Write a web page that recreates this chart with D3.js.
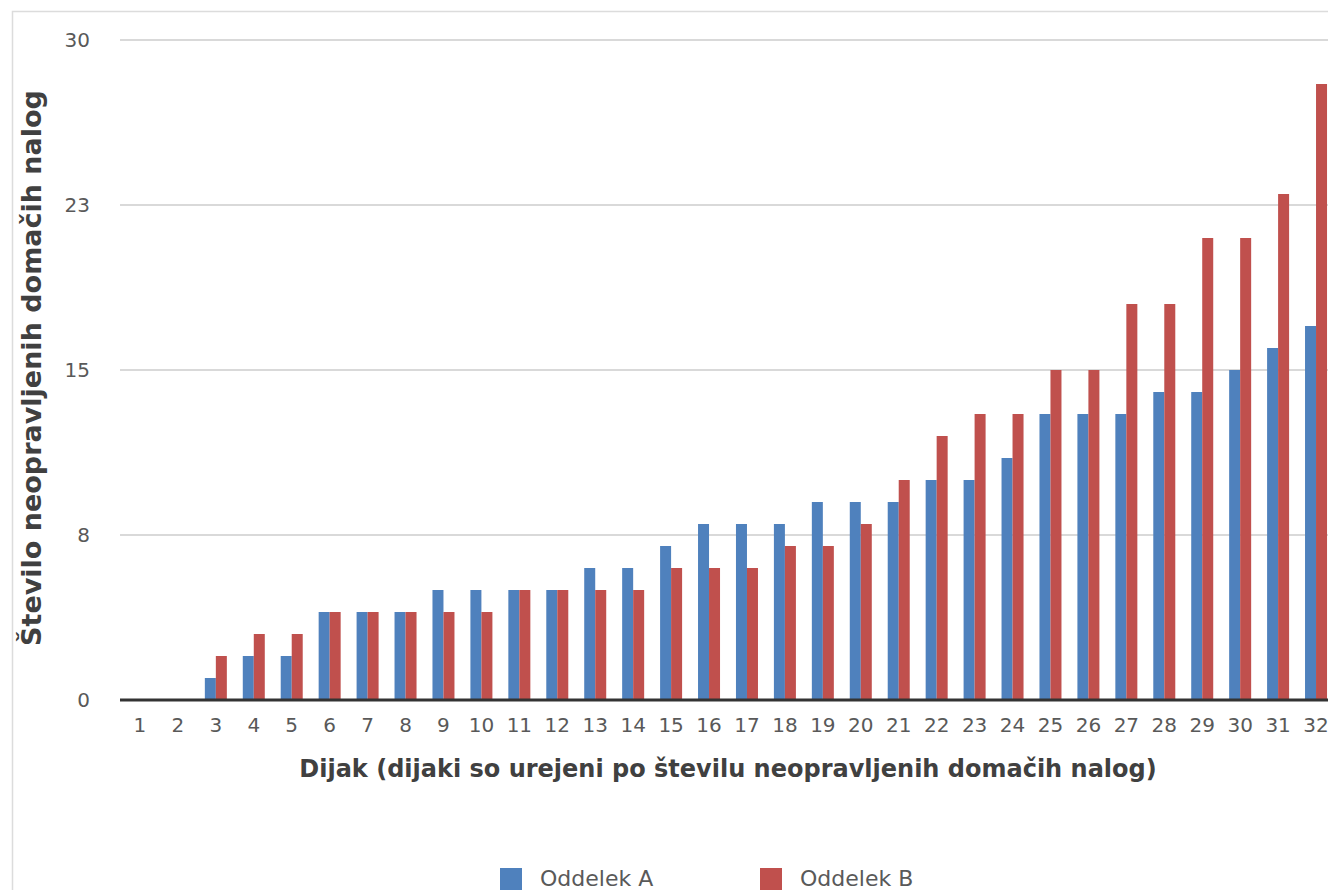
<!doctype html>
<html lang="sl">
<head>
<meta charset="utf-8">
<script src="https://d3js.org/d3.v7.min.js"></script>
<style>
  html, body { margin: 0; padding: 0; background: #fff; overflow: hidden; }
  svg { display: block; font-family: "DejaVu Sans", "Noto Sans", sans-serif; }
</style>
</head>
<body>
<div id="chart"></div>
<script>

// students 1..32, sorted by number of missing homeworks
var students = d3.range(1, 33).map(String);
var oddelekA = [0, 0, 1, 2, 2, 4, 4, 4, 5, 5, 5, 5, 6, 6, 7, 8, 8, 8, 9, 9, 9, 10, 10, 11, 13, 13, 13, 14, 14, 15, 16, 17];
var oddelekB = [0, 0, 2, 3, 3, 4, 4, 4, 4, 4, 5, 5, 5, 5, 6, 6, 6, 7, 7, 8, 10, 12, 13, 13, 15, 15, 18, 18, 21, 21, 23, 28];
var seriesNames = ["Oddelek A", "Oddelek B"];
var yTickValues = [0, 7.5, 15, 22.5, 30];
var yTickLabels = ["0", "8", "15", "23", "30"];

var width = 1328, height = 890;
var margin = {left: 121, top: 40, bottom: 190};
var plotRight = 1335;  // plot runs a bit past the window, last group is cut
var colors = ["#4f81bd", "#c0504d"];

var svg = d3.select("#chart").append("svg")
    .attr("width", width)
    .attr("height", height);

// outer frame of the chart
svg.append("rect")
    .attr("x", 12.5).attr("y", 11.5)
    .attr("width", 1400).attr("height", 1000)
    .attr("fill", "none")
    .attr("stroke", "#dcdcdc")
    .attr("stroke-width", 1.5);

var x = d3.scaleBand()
    .domain(students)
    .range([margin.left, plotRight])
    .paddingInner(0.42)
    .paddingOuter(0.21);

var xSub = d3.scaleBand()
    .domain(seriesNames)
    .range([0, x.bandwidth()]);

var y = d3.scaleLinear()
    .domain([0, 30])
    .range([height - margin.bottom, margin.top]);

// gridlines
svg.append("g")
    .selectAll("line")
    .data(yTickValues.slice(1))
    .join("line")
    .attr("x1", margin.left - 1)
    .attr("x2", plotRight)
    .attr("y1", d => y(d))
    .attr("y2", d => y(d))
    .attr("stroke", "#d9d9d9")
    .attr("stroke-width", 2);

// y axis labels
var yAxis = svg.append("g")
    .attr("transform", `translate(${margin.left},0)`)
    .call(d3.axisLeft(y)
        .tickValues(yTickValues)
        .tickFormat((d, i) => yTickLabels[i])
        .tickSize(0)
        .tickPadding(31));
yAxis.select(".domain").remove();
yAxis.selectAll("text")
    .attr("fill", "#595959")
    .style("font-family", "DejaVu Sans")
    .style("font-size", "20px");

// bars
var data = students.map((s, i) => ({student: s, values: [oddelekA[i], oddelekB[i]]}));

var group = svg.append("g")
    .selectAll("g")
    .data(data)
    .join("g")
    .attr("transform", d => `translate(${x(d.student)},0)`);

group.selectAll("rect")
    .data(d => d.values.map((v, j) => ({name: seriesNames[j], value: v, c: colors[j]})))
    .join("rect")
    .attr("x", d => xSub(d.name))
    .attr("width", xSub.bandwidth())
    .attr("y", d => y(d.value))
    .attr("height", d => y(0) - y(d.value))
    .attr("fill", d => d.c);

// x axis
var xAxis = svg.append("g")
    .attr("transform", `translate(0,${y(0)})`)
    .call(d3.axisBottom(x).tickSize(0).tickPadding(18));
xAxis.select(".domain").remove();
xAxis.selectAll("text")
    .attr("fill", "#595959")
    .style("font-family", "DejaVu Sans")
    .style("font-size", "20px");

svg.append("line")
    .attr("x1", margin.left - 1)
    .attr("x2", plotRight)
    .attr("y1", y(0))
    .attr("y2", y(0))
    .attr("stroke", "#333")
    .attr("stroke-width", 3);

// axis titles
svg.append("text")
    .attr("x", 728)
    .attr("y", 777)
    .attr("text-anchor", "middle")
    .attr("fill", "#404040")
    .style("font-size", "24px")
    .style("font-weight", "bold")
    .text("Dijak (dijaki so urejeni po številu neopravljenih domačih nalog)");

svg.append("text")
    .attr("transform", "translate(33,368) rotate(-90)")
    .attr("text-anchor", "middle")
    .attr("dominant-baseline", "middle")
    .attr("fill", "#404040")
    .style("font-size", "27px")
    .style("font-weight", "bold")
    .text("Število neopravljenih domačih nalog");

// legend
var legendX = [500, 760];
var legend = svg.append("g")
    .selectAll("g")
    .data(seriesNames)
    .join("g")
    .attr("transform", (d, i) => `translate(${legendX[i]},868)`);

legend.append("rect")
    .attr("width", 22)
    .attr("height", 22)
    .attr("fill", (d, i) => colors[i]);

legend.append("text")
    .attr("x", 40)
    .attr("y", 12)
    .attr("dominant-baseline", "middle")
    .attr("fill", "#595959")
    .style("font-size", "22px")
    .text(d => d);

</script>
</body>
</html>
